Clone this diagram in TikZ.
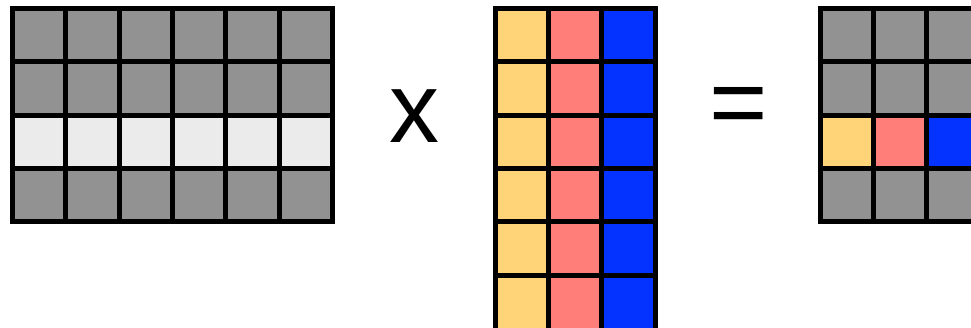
\documentclass[tikz,border=0pt]{standalone}
\usepackage{fontspec}
\setmainfont{Liberation Sans}
\definecolor{cgray}{RGB}{146,146,146}
\definecolor{clight}{RGB}{235,235,235}
\definecolor{cyellow}{RGB}{255,212,121}
\definecolor{csalmon}{RGB}{255,126,121}
\definecolor{cblue}{RGB}{4,51,255}
\begin{document}
\begin{tikzpicture}[x=1pt,y=-1pt,
  gridline/.style={line width=5pt, line join=miter, draw=black},
  optext/.style={font=\fontsize{100}{100}\selectfont, inner sep=0pt}]
\useasboundingbox (0,0) rectangle (971,328);
\clip (0,0) rectangle (971,328);
\def\cs{53.333}
% ---- left matrix 4x6 ----
\begin{scope}[shift={(12.5,8.5)}]
  \fill[cgray] (0,0) rectangle (6*\cs,4*\cs);
  \fill[clight] (0,2*\cs) rectangle (6*\cs,3*\cs);
  \foreach \i in {1,...,5} \draw[gridline] (\i*\cs,0) -- (\i*\cs,4*\cs);
  \foreach \j in {1,...,3} \draw[gridline] (0,\j*\cs) -- (6*\cs,\j*\cs);
  \draw[gridline] (0,0) rectangle (6*\cs,4*\cs);
\end{scope}
% ---- middle matrix 6x3 (bottom edge falls outside the picture) ----
\begin{scope}[shift={(495.2,8.5)}]
  \fill[cyellow] (0,0) rectangle (\cs,6*\cs+6);
  \fill[csalmon] (\cs,0) rectangle (2*\cs,6*\cs+6);
  \fill[cblue] (2*\cs,0) rectangle (3*\cs,6*\cs+6);
  \foreach \i in {1,2} \draw[gridline] (\i*\cs,0) -- (\i*\cs,6*\cs+6);
  \foreach \j in {1,...,5} \draw[gridline] (0,\j*\cs) -- (3*\cs,\j*\cs);
  \draw[gridline] (0,0) rectangle (3*\cs,6*\cs+6);
\end{scope}
% ---- right matrix 4x3 ----
\begin{scope}[shift={(820.2,8.5)}]
  \fill[cgray] (0,0) rectangle (3*\cs,4*\cs);
  \fill[cyellow] (0,2*\cs) rectangle (\cs,3*\cs);
  \fill[csalmon] (\cs,2*\cs) rectangle (2*\cs,3*\cs);
  \fill[cblue] (2*\cs,2*\cs) rectangle (3*\cs,3*\cs);
  \foreach \i in {1,2} \draw[gridline] (\i*\cs,0) -- (\i*\cs,4*\cs);
  \foreach \j in {1,...,3} \draw[gridline] (0,\j*\cs) -- (3*\cs,\j*\cs);
  \draw[gridline] (0,0) rectangle (3*\cs,4*\cs);
\end{scope}
% ---- operators ----
\node[optext] (times) at (414,116) {x};
\node[optext] (equals) at (738.7,112) {=};
\end{tikzpicture}
\end{document}
